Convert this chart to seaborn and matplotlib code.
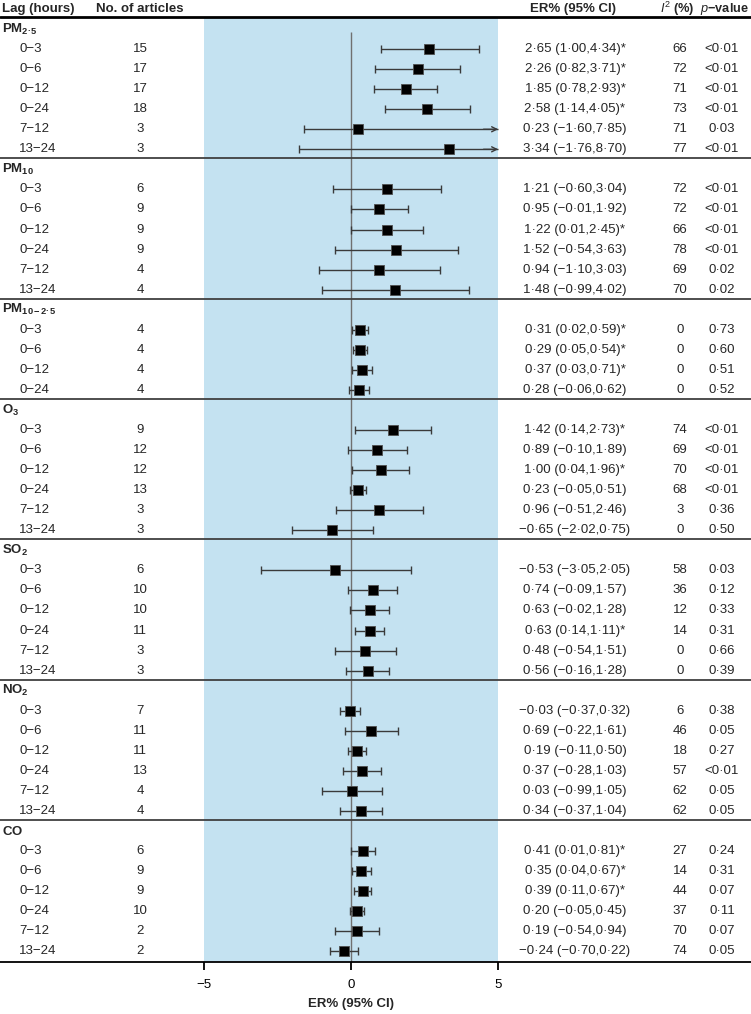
import numpy as np
import pandas as pd
import matplotlib
matplotlib.use('Agg')
import matplotlib.pyplot as plt
import seaborn as sns

# ---- data ----
group_names = ['PM2·5', 'PM10', 'PM10−2·5', 'O3', 'SO2', 'NO2', 'CO']
group_labels = [r'$\mathbf{PM_{2·5}}$', r'$\mathbf{PM_{10}}$', r'$\mathbf{PM_{10−2·5}}$',
                r'$\mathbf{O_{3}}$', r'$\mathbf{SO_{2}}$', r'$\mathbf{NO_{2}}$', r'$\mathbf{CO}$']

pollutant = (['PM2·5'] * 6 + ['PM10'] * 6 + ['PM10−2·5'] * 4 + ['O3'] * 6
             + ['SO2'] * 6 + ['NO2'] * 6 + ['CO'] * 6)
six_lags = ['0−3', '0−6', '0−12', '0−24', '7−12', '13−24']
lag = six_lags * 2 + six_lags[:4] + six_lags * 4

n_articles = [15, 17, 17, 18, 3, 3,
              6, 9, 9, 9, 4, 4,
              4, 4, 4, 4,
              9, 12, 12, 13, 3, 3,
              6, 10, 10, 11, 3, 3,
              7, 11, 11, 13, 4, 4,
              6, 9, 9, 10, 2, 2]
er = [2.65, 2.26, 1.85, 2.58, 0.23, 3.34,
      1.21, 0.95, 1.22, 1.52, 0.94, 1.48,
      0.31, 0.29, 0.37, 0.28,
      1.42, 0.89, 1.00, 0.23, 0.96, -0.65,
      -0.53, 0.74, 0.63, 0.63, 0.48, 0.56,
      -0.03, 0.69, 0.19, 0.37, 0.03, 0.34,
      0.41, 0.35, 0.39, 0.20, 0.19, -0.24]
ci_low = [1.00, 0.82, 0.78, 1.14, -1.60, -1.76,
          -0.60, -0.01, 0.01, -0.54, -1.10, -0.99,
          0.02, 0.05, 0.03, -0.06,
          0.14, -0.10, 0.04, -0.05, -0.51, -2.02,
          -3.05, -0.09, -0.02, 0.14, -0.54, -0.16,
          -0.37, -0.22, -0.11, -0.28, -0.99, -0.37,
          0.01, 0.04, 0.11, -0.05, -0.54, -0.70]
ci_high = [4.34, 3.71, 2.93, 4.05, 7.85, 8.70,
           3.04, 1.92, 2.45, 3.63, 3.03, 4.02,
           0.59, 0.54, 0.71, 0.62,
           2.73, 1.89, 1.96, 0.51, 2.46, 0.75,
           2.05, 1.57, 1.28, 1.11, 1.51, 1.28,
           0.32, 1.61, 0.50, 1.03, 1.05, 1.04,
           0.81, 0.67, 0.67, 0.45, 0.94, 0.22]
i2 = [66, 72, 71, 73, 71, 77,
      72, 72, 66, 78, 69, 70,
      0, 0, 0, 0,
      74, 69, 70, 68, 3, 0,
      58, 36, 12, 14, 0, 0,
      6, 46, 18, 57, 62, 62,
      27, 14, 44, 37, 70, 74]
p_value = ['<0·01', '<0·01', '<0·01', '<0·01', '0·03', '<0·01',
           '<0·01', '<0·01', '<0·01', '<0·01', '0·02', '0·02',
           '0·73', '0·60', '0·51', '0·52',
           '<0·01', '<0·01', '<0·01', '<0·01', '0·36', '0·50',
           '0·03', '0·12', '0·33', '0·31', '0·66', '0·39',
           '0·38', '0·05', '0·27', '<0·01', '0·05', '0·05',
           '0·24', '0·31', '0·07', '0·11', '0·07', '0·05']
x_ticks = [-5, 0, 5]


def fmt(v):
    return f'{v:.2f}'.replace('.', '·').replace('-', '−')


# ---- layout of rows ----
y_pos = []
title_pos = []
k = 0
prev = None
for p in pollutant:
    if p != prev:
        title_pos.append(k)
        k += 1
        prev = p
    y_pos.append(k)
    k += 1

df = pd.DataFrame({'pollutant': pollutant, 'lag': lag, 'n': n_articles, 'er': er,
                   'lo': ci_low, 'hi': ci_high, 'i2': i2, 'p': p_value, 'y': y_pos})
df['sig'] = (df['lo'] > 0) | (df['hi'] < 0)

sns.set_style('white')
plt.rcParams['font.family'] = ['Liberation Sans', 'DejaVu Sans']
plt.rcParams['mathtext.fontset'] = 'custom'
plt.rcParams['mathtext.rm'] = 'Liberation Sans'
plt.rcParams['mathtext.it'] = 'Liberation Sans:italic'
plt.rcParams['mathtext.bf'] = 'Liberation Sans:bold'
fs = 9.5

fig = plt.figure(figsize=(7.51, 10.14), dpi=100)
ax = fig.add_axes([0, 52 / 1014, 1, 962 / 1014])

y_bottom = 46.53
header_y = -1
header_line = -0.6

# shaded band and reference lines
ax.fill_between([-5, 5], header_line, y_bottom, color='#c4e2f1', lw=0, zorder=0)
ax.vlines(0, 0.15, y_bottom, color='#707070', lw=1, zorder=1)
ax.axhline(header_line, color='black', lw=2, zorder=3)
for t in title_pos[1:]:
    ax.axhline(t - 0.55, color='#404040', lw=1.3, zorder=3)

# confidence intervals
ci_color = '#3a3a3a'
for _, r in df.iterrows():
    hi_draw = min(r['hi'], 5)
    ax.hlines(r['y'], r['lo'], hi_draw, color=ci_color, lw=1, zorder=2)
    ax.plot([r['lo']], [r['y']], marker='|', ms=5.5, mew=1, color=ci_color, zorder=2)
    if r['hi'] > 5:
        ax.annotate('', xy=(5, r['y']), xytext=(4.5, r['y']),
                    arrowprops=dict(arrowstyle='->', color=ci_color, lw=1,
                                    shrinkA=0, shrinkB=0, mutation_scale=9))
    else:
        ax.plot([r['hi']], [r['y']], marker='|', ms=5.5, mew=1, color=ci_color, zorder=2)

# point estimates
sns.scatterplot(data=df, x='er', y='y', marker='s', s=58, color='black',
                edgecolor='#505050', linewidth=0.6, ax=ax, zorder=4, legend=False)

# text columns (x in axes fraction, y in rows)
tr = ax.get_yaxis_transform()
col_lag, col_n, col_er, col_i2, col_p = 19 / 751, 140 / 751, 575 / 751, 680 / 751, 722 / 751

ax.text(2 / 751, header_y, 'Lag (hours)', transform=tr, ha='left', va='center',
        fontsize=fs, fontweight='bold')
ax.text(col_n, header_y, 'No. of articles', transform=tr, ha='center', va='center',
        fontsize=fs, fontweight='bold')
ax.text(573 / 751, header_y, 'ER% (95% CI)', transform=tr, ha='center', va='center',
        fontsize=fs, fontweight='bold')
ax.text(677 / 751, header_y, r'$\mathit{I}^{2}$ (%)', transform=tr, ha='center', va='center',
        fontsize=9.2, fontweight='bold')
ax.text(749 / 751, header_y, r'$\mathit{p}$−value', transform=tr, ha='right', va='center',
        fontsize=9.2, fontweight='bold')

for t, lab in zip(title_pos, group_labels):
    ax.text(2 / 751, t, lab, transform=tr, ha='left', va='center', fontsize=fs)

for _, r in df.iterrows():
    y = r['y']
    ax.text(col_lag, y, r['lag'], transform=tr, ha='left', va='center', fontsize=fs)
    ax.text(col_n, y, str(r['n']), transform=tr, ha='center', va='center', fontsize=fs)
    label = f"{fmt(r['er'])} ({fmt(r['lo'])},{fmt(r['hi'])})" + ('*' if r['sig'] else '')
    ax.text(col_er, y, label, transform=tr, ha='center', va='center', fontsize=fs)
    ax.text(col_i2, y, str(r['i2']), transform=tr, ha='center', va='center', fontsize=fs)
    ax.text(col_p, y, r['p'], transform=tr, ha='center', va='center', fontsize=fs)

# axes styling
ax.set_xlim(-11.93, 13.59)
ax.set_ylim(y_bottom, -29 / 20.05)
for s in ['top', 'left', 'right']:
    ax.spines[s].set_visible(False)
ax.spines['bottom'].set_color('black')
ax.spines['bottom'].set_linewidth(1.3)
ax.set_xticks(x_ticks)
ax.set_yticks([])
ax.tick_params(axis='x', direction='out', length=6, width=1.3, pad=6,
               labelsize=fs, colors='black', bottom=True)
ax.set_xlabel('')
ax.set_ylabel('')
ax.annotate('ER% (95% CI)', xy=(0, 0), xycoords=('data', 'axes fraction'),
            xytext=(0, -30), textcoords='offset points', ha='center', va='center',
            fontsize=fs, fontweight='bold')

fig.savefig('out.png', dpi=100)
